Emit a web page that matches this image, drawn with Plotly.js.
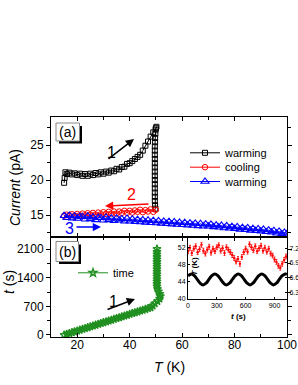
<!DOCTYPE html>
<html><head><meta charset="utf-8">
<script src="https://cdn.plot.ly/plotly-3.0.1.min.js"></script>
<style>html,body{margin:0;padding:0;background:#fff;}#plot{width:298px;height:385px;}</style>
</head><body><div id="plot"></div>
<script>
// ---- Panel (a): current vs temperature ----
var warm1T = [15.0,15.2,15.5,16,17,18,19,20,21,22,23,24,25,26,27,28,29,30,31,32,33,34,35,36,37,38,39,40,41,42,43,44,45,46,47,48,49,50,50.2,
  49.9,49.8,49.7,49.7,49.6,49.6,49.6,49.6,49.6,49.6,49.6,49.6,49.6,49.6,49.6,49.6,49.6,49.6,49.7,49.8];
var warm1I = [19.6,20.3,21.1,20.85,21.05,20.8,20.95,20.7,20.9,20.6,20.85,20.6,20.9,20.7,21.0,20.8,21.1,20.9,21.2,21.05,21.35,21.25,21.6,21.5,21.85,21.9,22.3,22.4,22.7,23.0,23.3,23.6,24.2,24.9,25.5,26.2,26.8,27.4,27.6,
  27.2,26.6,26.0,25.4,24.8,24.2,23.6,23.0,22.4,21.8,21.2,20.6,20.0,19.4,18.8,18.2,17.6,17.0,16.4,15.9];
var coolT = [50,49,48,47,46,45,44,43,42,41,40,39,38,37,36,35,34,33,32,31,30,29,28,27,26,25,24,23,22,21,20,19,18,17,16,15];
var coolI = [15.75,15.45,15.8,15.5,15.7,15.4,15.75,15.45,15.65,15.35,15.6,15.3,15.6,15.3,15.5,15.2,15.5,15.2,15.45,15.15,15.4,15.1,15.35,15.05,15.3,15.05,15.25,14.95,15.2,14.95,15.15,14.9,15.1,14.9,15.05,14.9];
var warm2T = [15,16,17,18,19,20,21,22,23,24,25,26,27,28,29,30,31,32,33,34,35,36,37,38,39,40,41,42,43,44,45,46,47,48,49,50,
  51,52,53,54,55,56,57,58,59,60,61,62,63,64,65,66,67,68,69,70,71,72,73,74,75,76,77,78,79,80,81,82,83,84,85,86,87,88,89,90,91,92,93,94,95,96,97,98,99,100];
var warm2I = [14.9,14.6,14.95,14.55,14.85,14.5,14.8,14.75,14.4,14.85,14.45,14.7,14.3,14.65,14.6,14.25,14.65,14.3,14.55,14.2,14.55,14.25,14.45,14.1,14.5,14.1,14.4,14.05,14.35,14.0,14.3,13.95,14.25,13.9,14.2,13.85,
  14.15,13.8,14.1,13.75,14.05,13.7,14.0,13.65,13.95,13.6,13.9,13.55,13.85,13.5,13.8,13.45,13.75,13.4,13.7,13.4,13.65,13.3,13.55,13.25,13.5,13.15,13.45,13.1,13.35,13.05,13.3,12.95,13.2,12.9,13.15,12.8,13.05,12.75,13.0,12.7,12.95,12.6,12.85,12.55,12.75,12.4,12.65,12.3,12.5,12.35];

// ---- Panel (b): time vs temperature ----
var timeT = [15,16,17,18,19,20,21,22,23,24,25,26,27,28,29,30,31,32,33,34,35,36,37,38,39,40,41,42,43,44,45,46,47,48,
  48.8,49.6,50.6,51.4,51.7,51.5,51.0,50.6,50.4,50.4,50.4,50.4,50.4,50.4,50.4,50.4,50.4,50.4,50.4,50.4,50.4,50.4,50.4,50.4];
var timeS = [0,20,41,61,81,102,122,142,162,183,203,223,244,264,284,305,325,345,365,386,406,426,447,467,487,508,528,548,568,589,609,629,650,670,
  715,770,825,885,945,1005,1065,1125,1185,1245,1305,1365,1425,1485,1545,1605,1665,1725,1785,1845,1905,1965,2025,2100];

// ---- Inset: temperature and current vs time ----
var insetTt = [0,35,66,96,127,157,188,218,249,279,310,340,371,401,432,462,493,523,554,584,615,645,676,706,737,767,798,828,859,889,920,950,981,1011,1030];
var insetTK = [45.3,45.8,45.4,44.5,43.6,43.2,43.6,44.5,45.4,45.8,45.4,44.5,43.6,43.2,43.6,44.5,45.4,45.8,45.4,44.5,43.6,43.2,43.6,44.5,45.4,45.8,45.4,44.5,43.6,43.2,43.6,44.5,45.4,45.8,45.7];
var insetIt = [0,20,40,60,80,100,120,140,160,180,200,220,240,260,280,300,320,340,360,380,400,420,440,460,480,500,520,540,560,580,600,620,640,660,680,700,720,740,760,780,800,820,840,860,880,900,920,940,960,980,1000,1020];
var insetI = [7.14,7.21,7.10,7.19,7.24,7.12,7.18,7.27,7.15,7.09,7.17,7.23,7.11,7.19,7.14,7.22,7.26,7.15,7.20,7.10,7.22,7.17,7.12,7.06,7.00,6.93,6.98,6.88,7.02,7.12,7.19,7.13,7.28,7.22,7.16,7.24,7.14,7.20,7.25,7.15,7.21,7.13,7.19,7.09,7.05,6.97,6.92,6.84,6.80,6.88,6.96,7.03];

var xTicks = [20,40,60,80,100];
var legendNames = ['warming','cooling','warming','time'];

// pixel -> paper helpers (for decorations only)
var L = 51, PW = 236, TOP = 117, PH = 220;
function PX(x){ return (x - L) / PW; }
function PY(y){ return (TOP + PH - y) / PH; }

var FONT = 'Liberation Sans, Arial, sans-serif';

var traces = [
  {x: warm1T, y: warm1I, xaxis:'x2', yaxis:'y', mode:'lines+markers', name: legendNames[0], legend:'legend',
   line:{color:'#000', width:1}, marker:{symbol:'square-open', size:5, color:'#000', line:{width:1}}},
  {x: coolT, y: coolI, xaxis:'x2', yaxis:'y', mode:'lines+markers', name: legendNames[1], legend:'legend3',
   line:{color:'#ff0000', width:1}, marker:{symbol:'circle-open', size:5.5, color:'#ff0000', line:{width:1}}},
  {x: warm2T, y: warm2I, xaxis:'x2', yaxis:'y', mode:'lines+markers', name: legendNames[2], legend:'legend4',
   line:{color:'#0000ff', width:1}, marker:{symbol:'triangle-up-open', size:7, color:'#0000ff', line:{width:1.1}}},
  {x: timeT, y: timeS, xaxis:'x', yaxis:'y2', mode:'lines+markers', name: legendNames[3], legend:'legend2',
   line:{color:'#1f8f1f', width:1}, marker:{symbol:'star-open', size:6, color:'#1f8f1f', line:{width:1.3}}},
  {x: insetTt, y: insetTK, xaxis:'x3', yaxis:'y3', mode:'lines', showlegend:false,
   line:{color:'#000', width:3, shape:'spline'}},
  {x: insetIt, y: insetI, xaxis:'x3', yaxis:'y4', mode:'markers', showlegend:false,
   marker:{symbol:'circle', size:2.5, color:'#ff0000'},
   error_y:{type:'constant', value:0.05, color:'#ff0000', thickness:0.8, width:1}}
];

var mainAx = {showline:true, linecolor:'#000', linewidth:1, mirror:'ticks', zeroline:false, showgrid:false,
  tickfont:{size:12, color:'#000', family:FONT}, tickcolor:'#000'};
function ax(o){ var r = {}; for (var k in mainAx) r[k] = mainAx[k]; for (var k2 in o) r[k2] = o[k2]; return r; }
var insAx = {showline:true, linecolor:'#000', linewidth:1, zeroline:false, showgrid:false, ticks:'inside', ticklen:2,
  tickfont:{size:7, color:'#000', family:FONT}, tickcolor:'#000'};
function iax(o){ var r = {}; for (var k in insAx) r[k] = insAx[k]; for (var k2 in o) r[k2] = o[k2]; return r; }

function leg(xp, ytop){
  return {x:PX(xp), y:PY(ytop), xanchor:'left', yanchor:'top', bgcolor:'rgba(0,0,0,0)', borderwidth:0,
    font:{size:11, family:FONT, color:'#000'}, itemwidth:30};
}
function ann(xp, yp, text, size, color, angle){
  return {xref:'paper', yref:'paper', x:PX(xp), y:PY(yp), xanchor:'center', yanchor:'middle', text:text,
    showarrow:false, textangle:angle||0, font:{size:size, color:color||'#000', family:FONT}};
}
function arrow(xp, yp, dx, dy, color){
  return {xref:'paper', yref:'paper', x:PX(xp), y:PY(yp), ax:dx, ay:dy, text:'', showarrow:true,
    arrowhead:2, arrowsize:1.1, arrowwidth:1.5, arrowcolor:color};
}

var layout = {
  width:298, height:385,
  margin:{l:L, r:298-L-PW, t:TOP, b:385-TOP-PH},
  paper_bgcolor:'#fff', plot_bgcolor:'rgba(0,0,0,0)',
  font:{family:FONT, color:'#000'},
  xaxis: ax({domain:[0,1], anchor:'y2', range:[10,100], tickvals:xTicks, ticks:'inside', ticklen:4, ticklabelstandoff:-3,
    minor:{dtick:10, tick0:0, ticks:'inside', ticklen:3, tickcolor:'#000'}}),
  xaxis2: ax({domain:[0,1], anchor:'y', matches:'x', range:[10,100], showticklabels:false, ticks:'inside', ticklen:4,
    tickvals:xTicks, minor:{dtick:10, tick0:0, ticks:'inside', ticklen:3, tickcolor:'#000'}}),
  yaxis: ax({domain:[PY(237),1], anchor:'x2', range:[11.857,29], dtick:5, tick0:0, ticks:'outside', ticklen:4,
    minor:{dtick:2.5, tick0:0, ticks:'outside', ticklen:3, tickcolor:'#000'}}),
  yaxis2: ax({domain:[0,PY(237)], anchor:'x', range:[-49,2393], dtick:700, tick0:0, ticks:'outside', ticklen:4,
    minor:{dtick:350, tick0:0, ticks:'outside', ticklen:3, tickcolor:'#000'}}),
  xaxis3: iax({domain:[PX(188),1], anchor:'y3', range:[0,1030], dtick:300, tick0:0, mirror:true}),
  yaxis3: iax({domain:[PY(298.5),PY(237)], anchor:'x3', range:[40,54.5], dtick:4, tick0:0}),
  yaxis4: iax({overlaying:'y3', anchor:'x3', side:'right', range:[6.17,7.43], dtick:0.3, tick0:6.3, tickformat:'.1f'}),
  legend: leg(185, 138.3),
  legend3: leg(185, 152.7),
  legend4: leg(185, 167),
  legend2: leg(73, 258.3),
  shapes:[
    {type:'rect', xref:'paper', yref:'paper', x0:PX(59), x1:PX(82), y0:PY(143.5), y1:PY(126), fillcolor:'#000', line:{width:0}},
    {type:'rect', xref:'paper', yref:'paper', x0:PX(56), x1:PX(79.5), y0:PY(141), y1:PY(123), fillcolor:'#fff', line:{color:'#888', width:1}},
    {type:'rect', xref:'paper', yref:'paper', x0:PX(59), x1:PX(81), y0:PY(264), y1:PY(244.5), fillcolor:'#000', line:{width:0}},
    {type:'rect', xref:'paper', yref:'paper', x0:PX(56), x1:PX(78.5), y0:PY(261.5), y1:PY(241.5), fillcolor:'#fff', line:{color:'#888', width:1}}
  ],
  annotations:[
    ann(67.8, 132.3, '(a)', 14),
    ann(67.3, 251.5, '(b)', 14),
    ann(15, 188, '<i>Current</i> (pA)', 14, '#000', -90),
    ann(9, 282, '<i>t</i> (s)', 14, '#000', -90),
    ann(169, 367, '<i>T</i> (K)', 14),
    ann(193.5, 266, '<b><i>T</i> (K)</b>', 8, '#000', -90),
    ann(238, 316, '<b><i>t</i> (s)</b>', 8),
    arrow(134, 139, -27, 21, '#000'),
    ann(111, 152, '1', 16, '#000'),
    arrow(105, 206, 45, -2, '#ff0000'),
    ann(131, 194, '2', 16, '#ff0000'),
    arrow(101, 227, -26, 0, '#0000ff'),
    ann(69.5, 228, '3', 16, '#0000ff'),
    arrow(135, 299, -29, 11, '#000'),
    ann(113, 301.5, '1', 16, '#000')
  ]
};

Plotly.newPlot('plot', traces, layout, {staticPlot:true, displayModeBar:false});
</script>
</body></html>
